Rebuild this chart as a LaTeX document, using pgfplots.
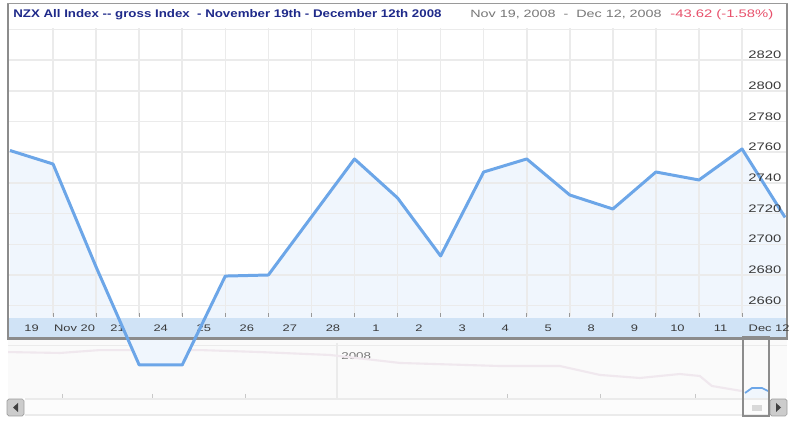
\documentclass[border=0pt]{standalone}
\usepackage{fontspec}
\setmainfont{Liberation Sans}
\newfontfamily\wf[FakeStretch=1.36]{Liberation Sans}
\newfontfamily\tf[FakeStretch=1.2]{Liberation Sans}
\usepackage{pgfplots}
\pgfplotsset{compat=1.18}
\definecolor{linec}{RGB}{108,166,232}
\definecolor{fillc}{HTML}{F0F6FD}
\definecolor{gridc}{HTML}{EBEBEB}
\definecolor{stripc}{HTML}{D0E3F6}
\definecolor{framec}{HTML}{9A9A9A}
\definecolor{shadowc}{HTML}{8C8C8C}
\definecolor{titlec}{HTML}{1F2A8A}
\definecolor{greyt}{HTML}{777777}
\definecolor{redt}{HTML}{E8506B}
\definecolor{navc}{HTML}{F0E8EE}
\definecolor{labc}{HTML}{3A3A3A}
% pixel -> axis coordinates
\newcommand{\pxc}[2]{({((#1)-10)/43.06},{2680+(275-(#2))/1.535})}
\newcommand{\dl}[2]{\node[font=\wf\fontsize{5.4}{6}\selectfont,text=labc,inner sep=0pt] at (axis cs:#1,2645.5) {#2};}
\begin{document}
\begin{tikzpicture}
\begin{axis}[
  scale only axis, width=16cm, height=8.5cm,
  xmin=-0.23223, xmax=18.3465, ymin=2582.28, ymax=2859.15,
  hide axis, clip=false]
% white page extent
\fill[white] \pxc{0}{0} rectangle \pxc{800}{425};
% navigator area
\fill[white!98!black] \pxc{8}{340} rectangle \pxc{787}{398};
\draw[gridc,line width=0.5pt] \pxc{8}{345} -- \pxc{787}{345};
\draw[gridc,line width=0.8pt] \pxc{337}{343} -- \pxc{337}{398};
\pgfplotsinvokeforeach{62,152,245,507,600,695}{\draw[gridc!85!black,line width=0.5pt] \pxc{#1}{394} -- \pxc{#1}{398};}
\node[font=\wf\fontsize{5.6}{6}\selectfont,text=greyt,anchor=west,inner sep=0pt] at \pxc{341}{356} {2008};
% navigator overview line
\addplot[navc,line width=1.2pt] coordinates {
(-0.046,2629.8) (1.161,2629.2) (2.090,2631.1) (4.411,2631.1) (5.805,2629.8)
(7.430,2627.9) (9.055,2622.7) (11.377,2620.7) (12.770,2620.7) (13.699,2614.9)
(14.627,2612.9) (15.556,2615.5) (16.020,2614.2) (16.299,2607.7) (16.995,2604.4)};
% scroll bar
\fill[white!99!black] \pxc{25}{399} rectangle \pxc{770}{415};
\draw[gridc,line width=0.6pt] \pxc{25}{399} -- \pxc{770}{399};
\draw[gridc,line width=0.6pt] \pxc{25}{415} -- \pxc{770}{415};
\fill[white!80!black,draw=white!62!black,line width=0.4pt,rounded corners=1pt] \pxc{7}{399} rectangle \pxc{24}{416};
\fill[white!80!black,draw=white!62!black,line width=0.4pt,rounded corners=1pt] \pxc{770}{399} rectangle \pxc{787}{416};
\fill[black!75] \pxc{13}{407.5} -- \pxc{18}{403} -- \pxc{18}{412} -- cycle;
\fill[black!75] \pxc{781}{407.5} -- \pxc{776}{403} -- \pxc{776}{412} -- cycle;
% mini bump in selection window
\fill[fillc] \pxc{745}{393} -- \pxc{752}{388} -- \pxc{762}{388} -- \pxc{768}{391} -- \pxc{768}{398} -- \pxc{745}{398} -- cycle;
\draw[linec,line width=1pt] \pxc{745}{393} -- \pxc{752}{388} -- \pxc{762}{388} -- \pxc{768}{391};
\fill[white!85!black] \pxc{752}{405} rectangle \pxc{762}{411};
% main chart background
\fill[white] \pxc{8}{4} rectangle \pxc{787}{338};
% area fill under the index line
\addplot[fill=fillc,draw=none] coordinates {
(0,2638.96) (0,2761.1) (1,2752.3) (2,2685.2) (3,2621.4) (4,2621.4) (5,2679.3)
(6,2680.0) (7,2717.8) (8,2755.6) (9,2730.2) (10,2692.4) (11,2747.1) (12,2755.6)
(13,2732.1) (14,2723.0) (15,2747.1) (16,2741.9) (17,2762.1) (18,2717.5) (18,2638.96)};
% grid
\pgfplotsinvokeforeach{2660,2680,...,2840}{\draw[gridc,line width=0.9pt] (axis cs:-0.046,#1) -- (axis cs:18.05,#1);}
\pgfplotsinvokeforeach{1,...,17}{\draw[gridc,line width=0.9pt] (axis cs:#1,2653.3) -- (axis cs:#1,2840.9);}
% date strip
\fill[stripc] \pxc{8}{318} rectangle \pxc{787}{337};
\pgfplotsinvokeforeach{1,...,17}{\draw[white!60!black,line width=0.5pt] (axis cs:#1,2655.2) -- (axis cs:#1,2652.6);}
% frame
\draw[framec,line width=0.6pt] \pxc{7.5}{3.5} rectangle \pxc{787}{338};
\draw[shadowc,line width=1.4pt] \pxc{7}{338.5} -- \pxc{787.5}{338.5};
\draw[shadowc,line width=1pt] \pxc{8}{4} -- \pxc{8}{338};
\draw[shadowc,line width=1pt] \pxc{787}{4} -- \pxc{787}{338};
% date labels
\dl{0.5}{19}
\dl{1.5}{Nov 20}
\dl{2.5}{21}
\dl{3.5}{24}
\dl{4.5}{25}
\dl{5.5}{26}
\dl{6.5}{27}
\dl{7.5}{28}
\dl{8.5}{1}
\dl{9.5}{2}
\dl{10.5}{3}
\dl{11.5}{4}
\dl{12.5}{5}
\dl{13.5}{8}
\dl{14.5}{9}
\dl{15.5}{10}
\dl{16.5}{11}
\dl{17.63}{Dec 12}
% index line
\addplot[linec,line width=1.7pt,line join=round] coordinates {
(0,2761.1) (1,2752.3) (2,2685.2) (3,2621.4) (4,2621.4) (5,2679.3)
(6,2680.0) (7,2717.8) (8,2755.6) (9,2730.2) (10,2692.4) (11,2747.1) (12,2755.6)
(13,2732.1) (14,2723.0) (15,2747.1) (16,2741.9) (17,2762.1) (18,2717.5)};
% selection window
\draw[white!55!black,line width=1.2pt] \pxc{743}{337} rectangle \pxc{769}{416};
% y labels
\pgfplotsinvokeforeach{2660,2680,...,2820}{\node[font=\wf\fontsize{6.2}{7}\selectfont,text=labc,inner sep=0pt] at (axis cs:17.53,{#1+3.3}) {#1};}
% header
\node[font=\tf\bfseries\fontsize{6.3}{7}\selectfont,text=titlec,anchor=west,inner sep=0pt] at \pxc{13}{15} {NZX All Index -- gross Index\ \ - November 19th - December 12th 2008};
\node[font=\wf\fontsize{6.0}{7}\selectfont,text=greyt,anchor=west,inner sep=0pt] at \pxc{470}{15} {Nov 19, 2008 \ - \ Dec 12, 2008};
\node[font=\wf\fontsize{6.2}{7}\selectfont,text=redt,anchor=west,inner sep=0pt] at \pxc{670}{15} {-43.62 (-1.58\%)};
\end{axis}
\end{tikzpicture}
\end{document}
